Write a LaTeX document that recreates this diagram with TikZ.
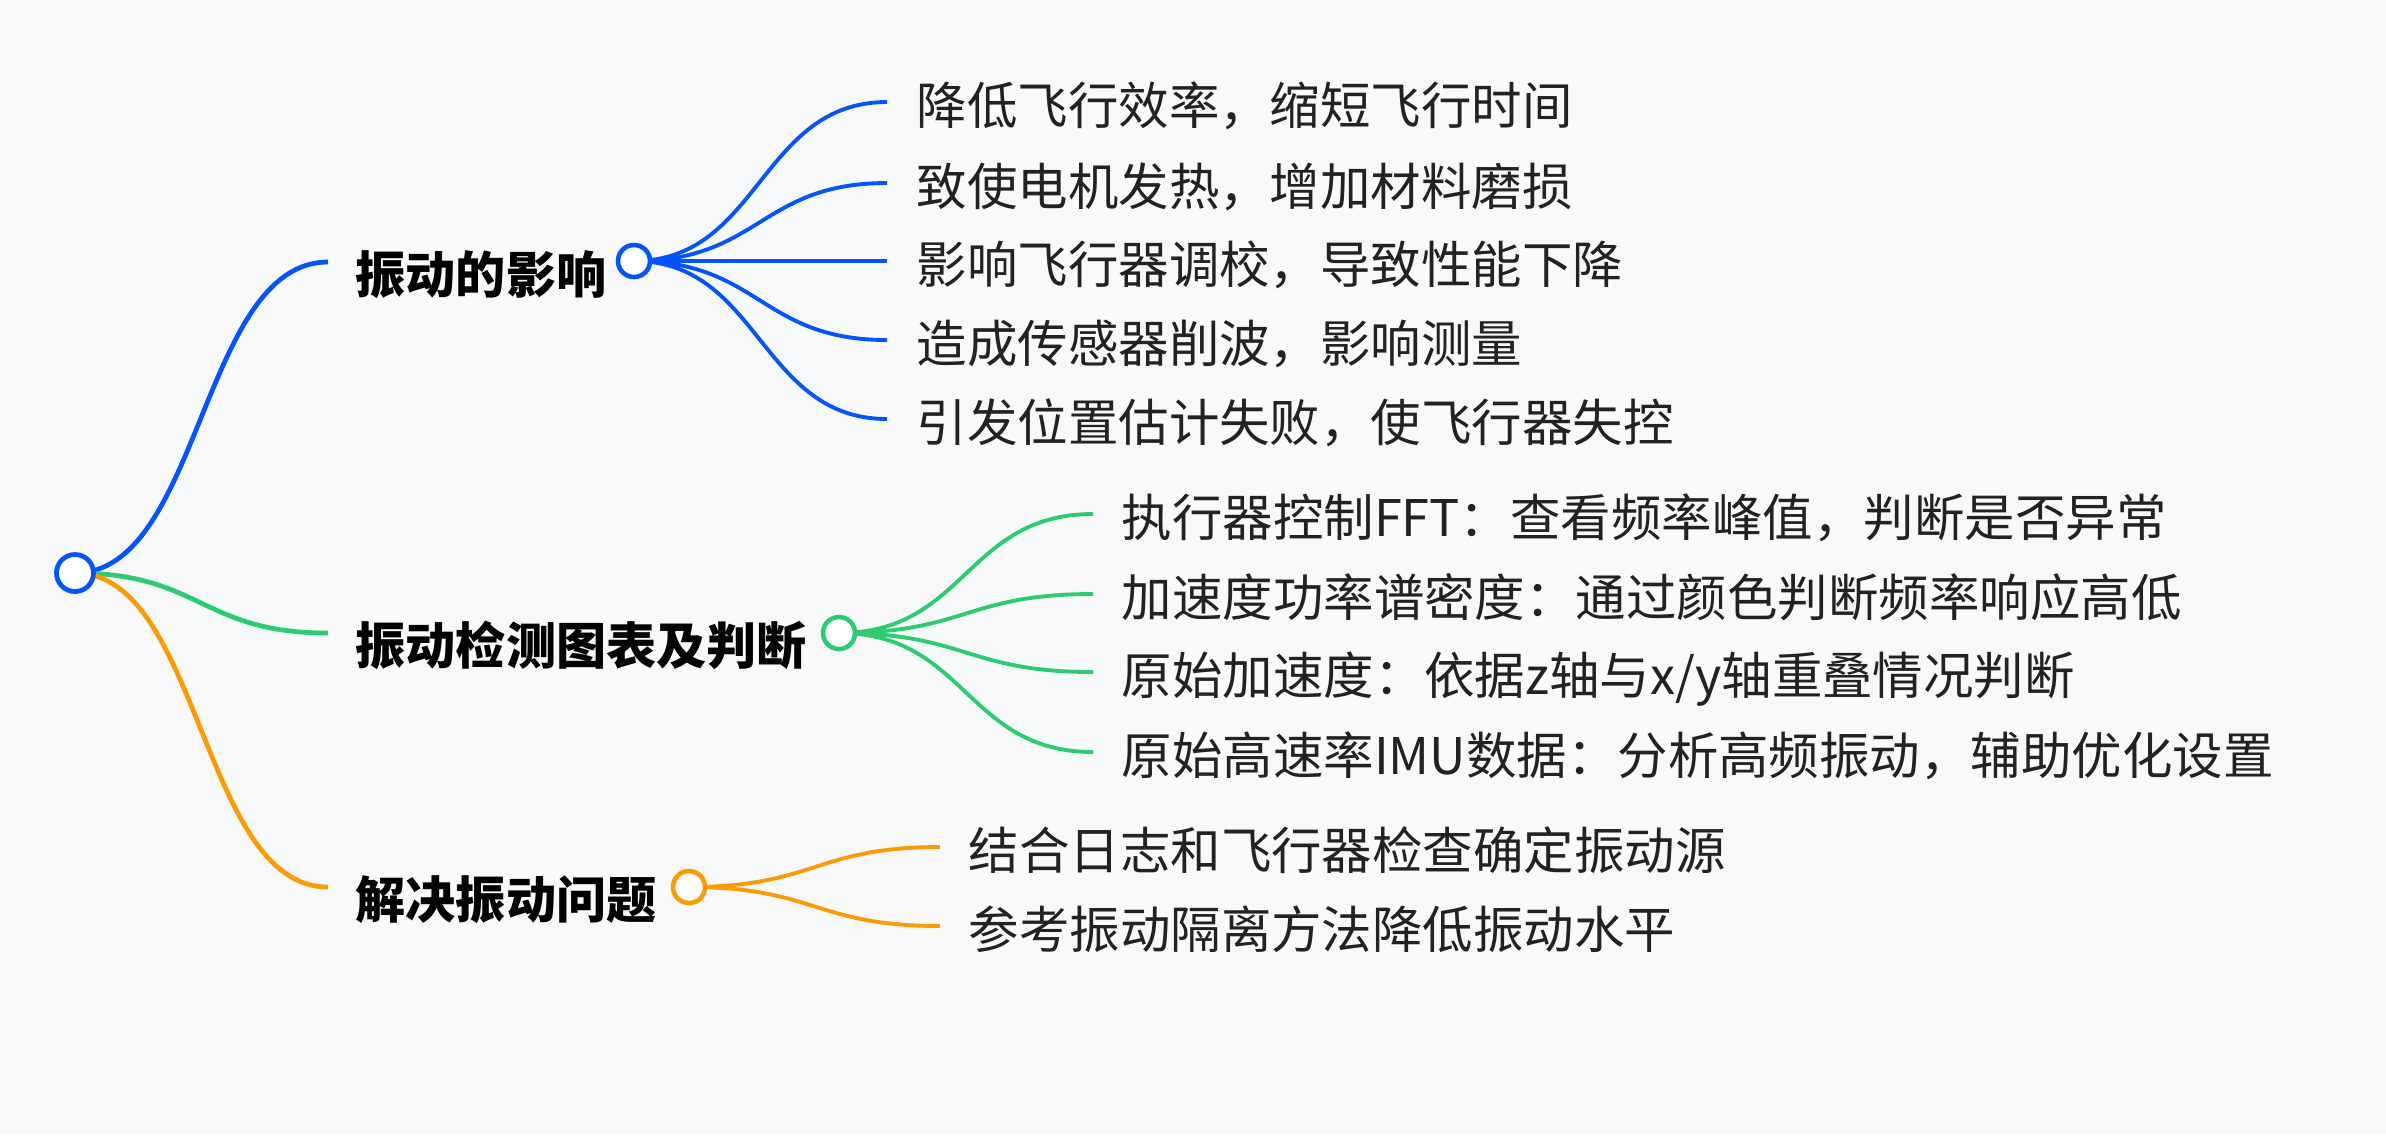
\documentclass[tikz,border=0pt]{standalone}
\usepackage{fontspec}
\newfontfamily\cjk{Noto Sans CJK SC}
\usetikzlibrary{backgrounds}
\definecolor{bgc}{HTML}{F8F9FB}
\definecolor{cblue}{HTML}{0055FF}
\definecolor{cgreen}{HTML}{2ECC71}
\definecolor{corange}{HTML}{FF9A00}
\definecolor{txt}{HTML}{222222}
\tikzset{
  px/.style={x=0.01cm,y=-0.01cm},
  dotnode/.style={circle,draw=#1,fill=white,line width=1.3pt,inner sep=0pt,minimum size=0.32cm},
  rootdot/.style={circle,draw=cblue,fill=white,line width=1.35pt,inner sep=0pt,minimum size=0.37cm},
  bigtext/.style={anchor=base west,inner sep=0pt,font=\cjk\bfseries\fontsize{14.25pt}{17pt}\selectfont,text=black},
  smalltext/.style={anchor=base west,inner sep=0pt,font=\cjk\fontsize{14.35pt}{17pt}\selectfont,text=txt},
  lone/.style={draw=#1,line width=1.35pt},
  ltwo/.style={draw=#1,line width=1.1pt},
}
\begin{document}
\begin{tikzpicture}[px]
\useasboundingbox (0,0) rectangle (2386,1135);
% nodes
\node[rootdot] (root) at (75,573) {};
\node[dotnode=cblue] (b1) at (634,261) {};
\node[dotnode=cgreen] (b2) at (839,633) {};
\node[dotnode=corange] (b3) at (689,887) {};
% level-1 ends
\coordinate (e1) at (328,262);
\coordinate (e2) at (328,633);
\coordinate (e3) at (328,887);
\node[bigtext] (t1) at (355,293) {振动的影响};
\node[bigtext] (t2) at (355,664) {振动检测图表及判断};
\node[bigtext] (t3) at (355,918) {解决振动问题};
% blue children
\coordinate (a1) at (887,102);
\coordinate (a2) at (887,183);
\coordinate (a3) at (887,261);
\coordinate (a4) at (887,340);
\coordinate (a5) at (887,419);
\node[smalltext] (n1) at (916,124) {降低飞行效率，缩短飞行时间};
\node[smalltext] (n2) at (916,205) {致使电机发热，增加材料磨损};
\node[smalltext] (n3) at (916,283) {影响飞行器调校，导致性能下降};
\node[smalltext] (n4) at (916,362) {造成传感器削波，影响测量};
\node[smalltext] (n5) at (916,441) {引发位置估计失败，使飞行器失控};
% green children
\coordinate (g1) at (1093,514);
\coordinate (g2) at (1093,594);
\coordinate (g3) at (1093,672);
\coordinate (g4) at (1093,752);
\node[smalltext] (m1) at (1121,536) {执行器控制FFT：查看频率峰值，判断是否异常};
\node[smalltext] (m2) at (1121,616) {加速度功率谱密度：通过颜色判断频率响应高低};
\node[smalltext] (m3) at (1121,694) {原始加速度：依据z轴与x/y轴重叠情况判断};
\node[smalltext] (m4) at (1121,774) {原始高速率IMU数据：分析高频振动，辅助优化设置};
% orange children
\coordinate (o1) at (940,847);
\coordinate (o2) at (940,926);
\node[smalltext] (p1) at (968,869) {结合日志和飞行器检查确定振动源};
\node[smalltext] (p2) at (968,948) {参考振动隔离方法降低振动水平};
% links
\begin{scope}[on background layer]
\fill[bgc] (0,0) rectangle (2386,1135);
\draw[lone=cblue] (root.center) .. controls (201,573) and (201,262) .. (e1);
\draw[lone=cgreen] (root.center) .. controls (201,573) and (201,633) .. (e2);
\draw[lone=corange] (root.center) .. controls (201,573) and (201,887) .. (e3);
\foreach \c/\y in {a1/102,a2/183,a3/261,a4/340,a5/419}
  \draw[ltwo=cblue] (b1.center) .. controls (760,261) and (760,\y) .. (\c);
\foreach \c/\y in {g1/514,g2/594,g3/672,g4/752}
  \draw[ltwo=cgreen] (b2.center) .. controls (966,633) and (966,\y) .. (\c);
\foreach \c/\y in {o1/847,o2/926}
  \draw[ltwo=corange] (b3.center) .. controls (815,887) and (815,\y) .. (\c);
\end{scope}
\end{tikzpicture}
\end{document}
